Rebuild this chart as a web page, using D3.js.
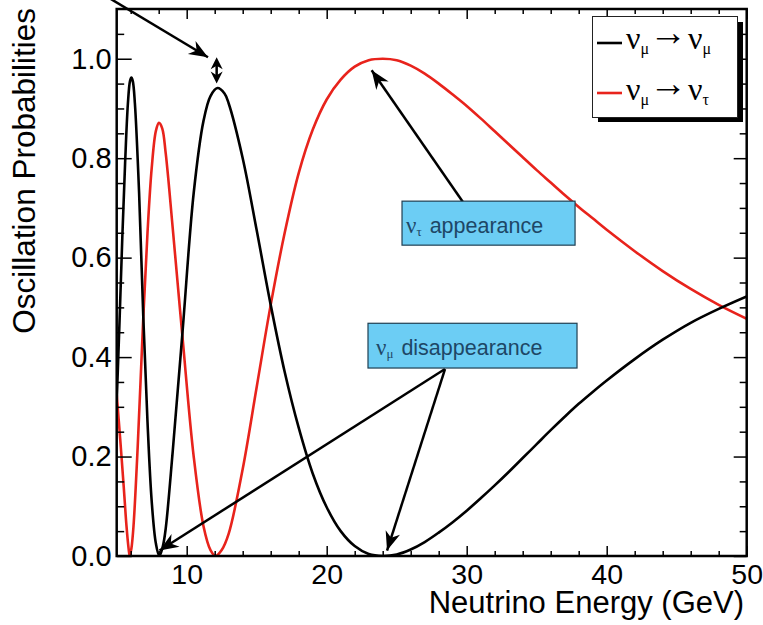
<!DOCTYPE html>
<html>
<head>
<meta charset="utf-8">
<script src="https://cdn.jsdelivr.net/npm/d3@7"></script>
<style>
  body { margin: 0; background: #fff; }
  svg { display: block; }
</style>
</head>
<body>
<div id="chart"></div>
<script>
// nu_mu -> nu_mu survival (black)
const energy_mumu = [5.0, 5.2, 5.4, 5.6, 5.8, 5.95, 6.05, 6.15, 6.3, 6.6, 6.9, 7.2, 7.5, 7.8, 8.05, 8.3, 8.5, 9.0, 9.7, 10.5, 11.2, 11.7, 12.2, 12.7, 13, 14, 15, 16, 17, 18, 19, 20, 21, 22, 23, 24, 25, 26, 27, 28, 29, 30, 31, 32, 33, 34, 35, 36, 37, 38, 39, 40, 42, 44, 46, 48, 50]
const prob_mumu   = [0.31, 0.47, 0.64, 0.79, 0.91, 0.955, 0.962, 0.955, 0.91, 0.73, 0.48, 0.27, 0.11, 0.025, 0.0, 0.02, 0.055, 0.21, 0.45, 0.73, 0.875, 0.925, 0.941, 0.93, 0.91, 0.80, 0.655, 0.505, 0.37, 0.258, 0.166, 0.098, 0.05, 0.02, 0.004, 0.0, 0.003, 0.013, 0.028, 0.047, 0.068, 0.091, 0.116, 0.142, 0.169, 0.197, 0.225, 0.253, 0.28, 0.306, 0.33, 0.353, 0.396, 0.435, 0.469, 0.497, 0.522]

// nu_mu -> nu_tau appearance (red)
const energy_mutau = [5.0, 5.25, 5.5, 5.7, 5.85, 5.93, 6.05, 6.2, 6.5, 6.9, 7.2, 7.5, 7.8, 8.02, 8.25, 8.5, 9.0, 9.7, 10.5, 11.2, 11.7, 12.06, 12.5, 13, 14, 15, 16, 17, 18, 19, 20, 21, 22, 23, 24, 25, 26, 27, 28, 29, 30, 31, 32, 33, 34, 35, 36, 37, 38, 39, 40, 42, 44, 46, 48, 50]
const prob_mutau   = [0.325, 0.235, 0.14, 0.06, 0.015, 0.0, 0.015, 0.06, 0.22, 0.48, 0.65, 0.78, 0.855, 0.871, 0.86, 0.81, 0.66, 0.44, 0.20, 0.06, 0.012, 0.0, 0.012, 0.045, 0.175, 0.34, 0.505, 0.65, 0.77, 0.857, 0.918, 0.958, 0.984, 0.997, 1.0, 0.997, 0.986, 0.970, 0.950, 0.928, 0.905, 0.880, 0.854, 0.828, 0.802, 0.776, 0.751, 0.726, 0.702, 0.679, 0.656, 0.613, 0.573, 0.537, 0.505, 0.477]

const xMajor = [10, 20, 30, 40, 50]
const xMinor = [6, 8, 12, 14, 16, 18, 22, 24, 26, 28, 32, 34, 36, 38, 42, 44, 46, 48]
const yMajor = [0, 0.2, 0.4, 0.6, 0.8, 1.0]
const yMinor = [0.05, 0.1, 0.15, 0.25, 0.3, 0.35, 0.45, 0.5, 0.55, 0.65, 0.7, 0.75, 0.85, 0.9, 0.95, 1.05]

const sans = '"Liberation Sans", Arial, Helvetica, sans-serif'
const serif = '"Liberation Serif", "Times New Roman", serif'

const plotLeft = 116.7, plotRight = 746.7, plotTop = 9, plotBottom = 556

const svg = d3.select('#chart').append('svg')
    .attr('width', 763)
    .attr('height', 625)

const scalex = d3.scaleLinear().domain([5, 50]).range([plotLeft, plotRight])
const scaley = d3.scaleLinear().domain([0, 1.1]).range([plotBottom, plotTop])

svg.append('defs').append('clipPath').attr('id', 'plotclip')
    .append('rect')
    .attr('x', plotLeft).attr('y', plotTop)
    .attr('width', plotRight - plotLeft).attr('height', plotBottom - plotTop)

// curves
const line = d3.line()
    .x(d => scalex(d[0]))
    .y(d => scaley(d[1]))
    .curve(d3.curveCatmullRom.alpha(0.5))

const curves = svg.append('g').attr('clip-path', 'url(#plotclip)')
curves.append('path')
    .datum(energy_mutau.map((e, i) => [e, prob_mutau[i]]))
    .attr('fill', 'none')
    .attr('stroke', '#e8231c')
    .attr('stroke-width', 2.6)
    .attr('d', line)
curves.append('path')
    .datum(energy_mumu.map((e, i) => [e, prob_mumu[i]]))
    .attr('fill', 'none')
    .attr('stroke', '#000')
    .attr('stroke-width', 2.6)
    .attr('d', line)

// axes, ROOT style ticks pointing inwards on all four sides
function addaxis(axis, translate, labels, fsize) {
    const g = svg.append('g')
        .attr('transform', translate)
        .call(axis)
    g.select('.domain').remove()
    g.selectAll('line').attr('stroke', '#000').attr('stroke-width', 1.5)
    g.selectAll('text')
        .attr('font-family', sans)
        .attr('font-size', fsize)
        .attr('fill', '#000')
    if (!labels) g.selectAll('text').remove()
    return g
}

addaxis(d3.axisBottom(scalex).tickValues(xMajor).tickSize(-10).tickPadding(8).tickFormat(d3.format('d')), `translate(0,${plotBottom})`, true, 28.5)
addaxis(d3.axisBottom(scalex).tickValues(xMinor).tickSize(-5), `translate(0,${plotBottom})`, false)
addaxis(d3.axisTop(scalex).tickValues(xMajor).tickSize(-10), `translate(0,${plotTop})`, false)
addaxis(d3.axisTop(scalex).tickValues(xMinor).tickSize(-5), `translate(0,${plotTop})`, false)
addaxis(d3.axisLeft(scaley).tickValues(yMajor).tickSize(-15).tickPadding(5).tickFormat(d3.format('.1f')), `translate(${plotLeft},0)`, true, 29)
addaxis(d3.axisLeft(scaley).tickValues(yMinor).tickSize(-7.5), `translate(${plotLeft},0)`, false)
addaxis(d3.axisRight(scaley).tickValues(yMajor).tickSize(-13), `translate(${plotRight},0)`, false)
addaxis(d3.axisRight(scaley).tickValues(yMinor).tickSize(-7), `translate(${plotRight},0)`, false)

svg.append('rect')
    .attr('x', plotLeft).attr('y', plotTop)
    .attr('width', plotRight - plotLeft).attr('height', plotBottom - plotTop)
    .attr('fill', 'none')
    .attr('stroke', '#000')
    .attr('stroke-width', 2.5)

// axis titles
svg.append('text')
    .attr('x', 744).attr('y', 613)
    .attr('text-anchor', 'end')
    .attr('font-family', sans)
    .attr('font-size', 31)
    .text('Neutrino Energy (GeV)')

svg.append('text')
    .attr('transform', 'translate(35,8) rotate(-90)')
    .attr('text-anchor', 'end')
    .attr('font-family', sans)
    .attr('font-size', 31.5)
    .text('Oscillation Probabilities')

// arrows
function arrowhead(x1, y1, x2, y2, len, half) {
    const a = Math.atan2(y2 - y1, x2 - x1)
    const bx = x2 - len * Math.cos(a), by = y2 - len * Math.sin(a)
    const nx = -Math.sin(a) * half, ny = Math.cos(a) * half
    const mx = x2 - len * 0.7 * Math.cos(a), my = y2 - len * 0.7 * Math.sin(a)
    return `M${x2},${y2}L${bx + nx},${by + ny}L${mx},${my}L${bx - nx},${by - ny}Z`
}

function addarrow(from, to) {
    const x1 = scalex(from[0]), y1 = scaley(from[1])
    const x2 = scalex(to[0]), y2 = scaley(to[1])
    svg.append('line')
        .attr('x1', x1).attr('y1', y1).attr('x2', x2).attr('y2', y2)
        .attr('stroke', '#000').attr('stroke-width', 2.5)
    svg.append('path')
        .attr('d', arrowhead(x1, y1, x2, y2, 19, 7.5))
        .attr('fill', '#000')
}

// arrow coming in from the top left corner
addarrow([3.52, 1.138], [11.52, 1.003])
addarrow([29.73, 0.712], [23.21, 0.977])
addarrow([28.45, 0.376], [8.06, 0.011])
addarrow([28.45, 0.376], [24.31, 0.011])

// double headed arrow between the black peak and 1.0
const dax = scalex(12.14), day1 = scaley(1.003), day2 = scaley(0.950)
svg.append('line')
    .attr('x1', dax).attr('x2', dax).attr('y1', day1 + 4).attr('y2', day2 - 4)
    .attr('stroke', '#000').attr('stroke-width', 2.5)
svg.append('path').attr('d', arrowhead(dax, day2, dax, day1, 12, 6)).attr('fill', '#000')
svg.append('path').attr('d', arrowhead(dax, day1, dax, day2, 12, 6)).attr('fill', '#000')

// label boxes
function addbox(e1, e2, p1, p2, sub, word, tx, ty) {
    svg.append('rect')
        .attr('x', scalex(e1)).attr('y', scaley(p1))
        .attr('width', scalex(e2) - scalex(e1))
        .attr('height', scaley(p2) - scaley(p1))
        .attr('fill', '#6ccdf4')
        .attr('stroke', '#1f3f52')
        .attr('stroke-width', 1.2)
    const t = svg.append('text')
        .attr('x', tx).attr('y', ty)
        .attr('fill', '#1e4766')
    t.append('tspan').attr('font-family', serif).attr('font-size', 23).text('ν')
    t.append('tspan').attr('font-family', serif).attr('font-size', 13).attr('dy', 3).text(sub)
    t.append('tspan').attr('font-family', sans).attr('font-size', 21.5).attr('dy', -3).attr('dx', 8).text(word)
}

addbox(25.38, 37.74, 0.7136, 0.6251, 'τ', 'appearance', 406, 233)
addbox(22.95, 37.88, 0.468, 0.378, 'μ', 'disappearance', 376, 355)

// legend with shadow
svg.append('rect')
    .attr('x', 598).attr('y', 22).attr('width', 145).attr('height', 100)
    .attr('fill', '#000')
svg.append('rect')
    .attr('x', 592.5).attr('y', 16.5).attr('width', 145).attr('height', 101)
    .attr('fill', '#fff')
    .attr('stroke', '#222')
    .attr('stroke-width', 1)

const legenditems = [
    { color: '#000', sub: 'μ', y: 43, base: 48.5 },
    { color: '#e8231c', sub: 'τ', y: 93, base: 99.5 }
]
legenditems.forEach(d => {
    svg.append('line')
        .attr('x1', 597).attr('x2', 622)
        .attr('y1', d.y).attr('y2', d.y)
        .attr('stroke', d.color).attr('stroke-width', 2.6)
    const t = svg.append('text')
        .attr('x', 626).attr('y', d.base)
        .attr('font-family', serif)
        .attr('fill', '#000')
    t.append('tspan').attr('font-size', 32).text('ν')
    t.append('tspan').attr('font-size', 16).attr('dy', 5).text('μ')
    t.append('tspan').attr('font-size', 38).attr('dy', -8.5).text('→')
    t.append('tspan').attr('font-size', 32).attr('dy', 3.5).attr('dx', 1).text('ν')
    t.append('tspan').attr('font-size', 16).attr('dy', 5).text(d.sub)
})
</script>
</body>
</html>
